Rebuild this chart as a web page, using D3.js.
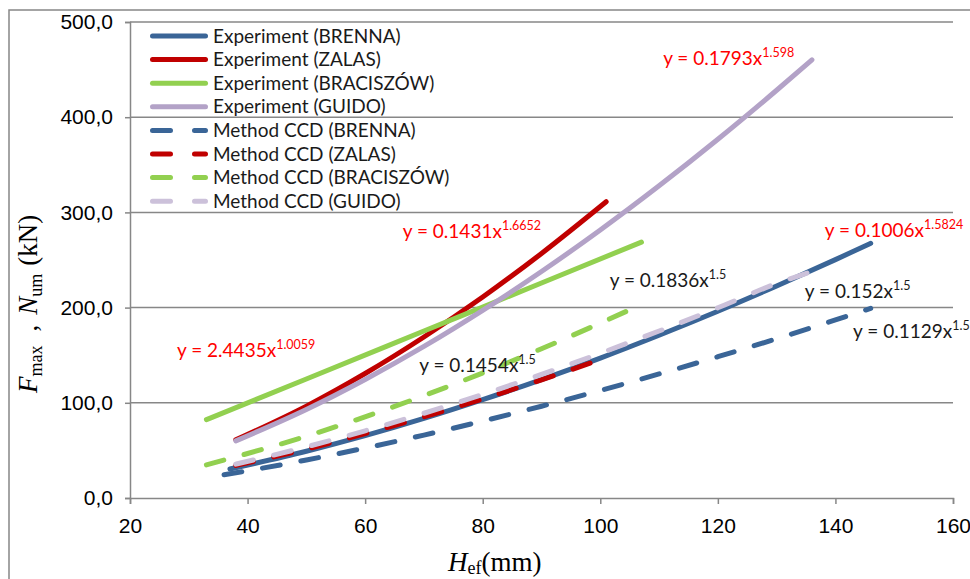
<!DOCTYPE html>
<html>
<head>
<meta charset="utf-8">
<script src="https://cdn.jsdelivr.net/npm/d3@7"></script>
<style>
  body { margin: 0; background: #fff; }
  svg { display: block; }
</style>
</head>
<body>
<div id="chart"></div>
<script>
// values (x = Hef in mm, y = force in kN)
var seriesNames = [
  "Experiment (BRENNA)", "Experiment (ZALAS)", "Experiment (BRACISZÓW)", "Experiment (GUIDO)",
  "Method CCD (BRENNA)", "Method CCD (ZALAS)", "Method CCD (BRACISZÓW)", "Method CCD (GUIDO)"
];

var expBrennaX = [37, 50, 60, 70, 80, 90, 100, 110, 120, 130, 140, 146];
var expBrennaY = [30.5, 49.1, 65.5, 83.6, 103.3, 124.4, 147.0, 171.0, 196.2, 222.7, 250.4, 267.6];

var expZalasX = [38, 50, 60, 70, 80, 90, 101];
var expZalasY = [61.1, 96.5, 130.8, 169.1, 211.1, 256.9, 311.2];

var expBraciszowX = [33, 50, 70, 90, 107];
var expBraciszowY = [82.3, 125.0, 175.4, 225.8, 268.8];

var expGuidoX = [38, 50, 60, 70, 80, 90, 100, 110, 120, 130, 136];
var expGuidoY = [60.0, 93.0, 124.5, 159.2, 197.1, 237.9, 281.5, 327.9, 376.8, 428.3, 460.3];

var ccdBrennaX = [36, 50, 60, 70, 80, 90, 100, 110, 120, 130, 140, 146];
var ccdBrennaY = [24.4, 39.9, 52.5, 66.1, 80.8, 96.4, 112.9, 130.3, 148.4, 167.3, 187.0, 199.2];

var ccdZalasX = [38, 50, 60, 70, 80, 90, 101];
var ccdZalasY = [34.1, 51.4, 67.6, 85.2, 104.0, 124.1, 147.6];

var ccdBraciszowX = [33, 50, 70, 90, 107];
var ccdBraciszowY = [34.8, 64.9, 107.5, 156.8, 203.2];

var ccdGuidoX = [38, 50, 60, 70, 80, 90, 100, 110, 120, 130, 136];
var ccdGuidoY = [35.6, 53.7, 70.6, 89.0, 108.8, 129.8, 152.0, 175.4, 199.8, 225.3, 238.0];

var xTicks = [20, 40, 60, 80, 100, 120, 140, 160];
var yTicks = [0, 100, 200, 300, 400, 500];

// trendline equations: coefficient, exponent, anchor point (data units)
var eqCoef = ["0.1793", "0.1431", "2.4435", "0.1454", "0.1836", "0.1006", "0.152", "0.1129"];
var eqExp = ["1.598", "1.6652", "1.0059", "1.5", "1.5", "1.5824", "1.5", "1.5"];
var eqX = [110.7, 66.4, 28.0, 69.2, 101.6, 138.2, 134.8, 143.0];
var eqY = [454.8, 273.1, 148.1, 132.4, 221.6, 274.2, 210.1, 168.1];
var eqRed = [true, true, true, false, false, true, false, false];

var svgWidth = 970;
var svgHeight = 579;

var margin = { top: 22, right: 17, bottom: 81, left: 130 };
var width = svgWidth - margin.left - margin.right;
var height = svgHeight - margin.top - margin.bottom;

var colors = ["#3a6597", "#c00000", "#92d050", "#b3a2c7", "#3a6597", "#c00000", "#92d050", "#ccc1da"];
var dashed = [false, false, false, false, true, true, true, true];
var dashPattern = "18,21";
var gridColor = "#878787";

var series = [
  [expBrennaX, expBrennaY], [expZalasX, expZalasY], [expBraciszowX, expBraciszowY], [expGuidoX, expGuidoY],
  [ccdBrennaX, ccdBrennaY], [ccdZalasX, ccdZalasY], [ccdBraciszowX, ccdBraciszowY], [ccdGuidoX, ccdGuidoY]
].map(function(s, i) {
  return { name: seriesNames[i], points: s[0].map(function(x, j) { return [x, s[1][j]]; }) };
});

var svg = d3.select("#chart")
  .append("svg")
  .attr("width", svgWidth)
  .attr("height", svgHeight);

// outer frame
svg.append("rect")
  .attr("x", 9)
  .attr("y", 10)
  .attr("width", 1000)
  .attr("height", 700)
  .attr("fill", "none")
  .attr("stroke", gridColor)
  .attr("stroke-width", 1.5);

var chartGroup = svg.append("g")
  .attr("transform", `translate(${margin.left}, ${margin.top})`);

var xLinearScale = d3.scaleLinear().domain([20, 160]).range([0, width]);
var yLinearScale = d3.scaleLinear().domain([0, 500]).range([height, 0]);

// horizontal gridlines
chartGroup.append("g")
  .selectAll("line")
  .data(yTicks.slice(1))
  .enter()
  .append("line")
  .attr("x1", 0)
  .attr("x2", width)
  .attr("y1", d => yLinearScale(d))
  .attr("y2", d => yLinearScale(d))
  .attr("stroke", gridColor)
  .attr("stroke-width", 1.5);

var bottomAxis = d3.axisBottom(xLinearScale)
  .tickValues(xTicks)
  .tickSize(6)
  .tickPadding(14)
  .tickFormat(d3.format("d"));

var leftAxis = d3.axisLeft(yLinearScale)
  .tickValues(yTicks)
  .tickSize(5)
  .tickPadding(12)
  .tickFormat(d => d.toFixed(1).replace(".", ","));

var xAxis = chartGroup.append("g")
  .attr("transform", `translate(0, ${height})`)
  .call(bottomAxis);

var yAxis = chartGroup.append("g")
  .call(leftAxis);

[xAxis, yAxis].forEach(function(ax) {
  ax.select(".domain").attr("stroke", gridColor).attr("stroke-width", 1.5);
  ax.selectAll(".tick line").attr("stroke", gridColor).attr("stroke-width", 1.5);
  ax.selectAll(".tick text")
    .attr("fill", "#000")
    .style("font-family", "'Liberation Sans', Arial, sans-serif")
    .style("font-size", "21px");
});

// curves
var line = d3.line()
  .x(d => xLinearScale(d[0]))
  .y(d => yLinearScale(d[1]))
  .curve(d3.curveMonotoneX);

chartGroup.append("g")
  .selectAll("path")
  .data(series)
  .enter()
  .append("path")
  .attr("d", d => line(d.points))
  .attr("fill", "none")
  .attr("stroke", (d, i) => colors[i])
  .attr("stroke-width", 5)
  .attr("stroke-linecap", "round")
  .attr("stroke-dasharray", (d, i) => dashed[i] ? dashPattern : null);

// equation labels
var eqGroup = chartGroup.append("g")
  .style("font-family", "Lato, 'Open Sans', sans-serif");

eqCoef.forEach(function(c, i) {
  var t = eqGroup.append("text")
    .attr("x", xLinearScale(eqX[i]))
    .attr("y", yLinearScale(eqY[i]))
    .attr("fill", eqRed[i] ? "#ff0000" : "#1a1a1a")
    .style("font-size", "19px");
  t.append("tspan").text("y = " + c + "x");
  t.append("tspan")
    .attr("dy", -8)
    .style("font-size", "12.5px")
    .text(eqExp[i]);
});

// legend
var legend = svg.append("g")
  .attr("transform", "translate(150, 36)");

var legendRows = legend.selectAll("g")
  .data(seriesNames)
  .enter()
  .append("g")
  .attr("transform", (d, i) => `translate(0, ${i * 23.6})`);

legendRows.append("line")
  .attr("x1", 2.5)
  .attr("x2", 55.5)
  .attr("y1", 0)
  .attr("y2", 0)
  .attr("stroke", (d, i) => colors[i])
  .attr("stroke-width", 5)
  .attr("stroke-linecap", "round")
  .attr("stroke-dasharray", (d, i) => dashed[i] ? "18,24" : null);

legendRows.append("text")
  .attr("x", 63)
  .attr("y", 0)
  .attr("dy", "0.35em")
  .attr("fill", "#1a1a1a")
  .style("font-family", "Lato, 'Open Sans', sans-serif")
  .style("font-size", "19px")
  .text(d => d);

// axis titles
var serif = "'Liberation Serif', 'Times New Roman', serif";

var xTitle = svg.append("text")
  .attr("x", 448)
  .attr("y", 571)
  .attr("fill", "#000")
  .style("font-family", serif)
  .style("font-size", "27px");
xTitle.append("tspan").style("font-style", "italic").text("H");
xTitle.append("tspan").attr("dy", 3).style("font-size", "18px").text("ef");
xTitle.append("tspan").attr("dy", -3).text("(mm)");

var yTitle = svg.append("text")
  .attr("transform", "translate(37, 393) rotate(-90)")
  .attr("fill", "#000")
  .style("font-family", serif)
  .style("font-size", "27px");
yTitle.append("tspan").style("font-style", "italic").text("F");
yTitle.append("tspan").attr("dy", 5).style("font-size", "18px").text("max");
yTitle.append("tspan").attr("dy", -5).attr("dx", 14).text(",");
yTitle.append("tspan").attr("dx", 10).style("font-style", "italic").text("N");
yTitle.append("tspan").attr("dy", 5).style("font-size", "18px").text("um");
yTitle.append("tspan").attr("dy", -5).attr("dx", 8).text("(kN)");
</script>
</body>
</html>
